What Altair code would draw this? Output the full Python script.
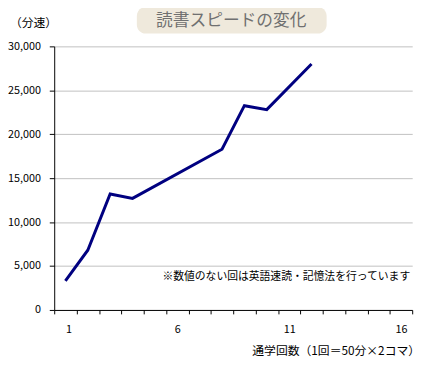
import altair as alt
import pandas as pd

# Data (sessions without values are omitted)
sessions = [1, 2, 3, 4, 8, 9, 10, 12]
speeds = [3300, 6800, 13200, 12700, 18300, 23250, 22800, 28000]

y_ticks = [0, 5000, 10000, 15000, 20000, 25000, 30000]
x_boundaries = [i + 0.5 for i in range(0, 17)]

title_text = "読書スピードの変化"
unit_text = "（分速）"
x_title_text = "通学回数（1回＝50分×2コマ）"
note_text = "※数値のない回は英語速読・記憶法を行っています"

FONT = "Noto Sans CJK JP"
W, H = 364, 268

df = pd.DataFrame({"session": sessions, "speed": speeds})

x_scale = alt.Scale(domain=[0.5, 16.5], nice=False, zero=False)
y_scale = alt.Scale(domain=[0, 30000], nice=False)

line = alt.Chart(df).mark_line(color="#000080", strokeWidth=3).encode(
    x=alt.X("session:Q", scale=x_scale,
            axis=alt.Axis(values=x_boundaries, title=None, grid=False,
                          labelExpr="(datum.value - 0.5) % 5 == 0 ? format(datum.value + 0.5, 'd') : ''",
                          labelOffset=W / 16 / 2, labelOverlap=False,
                          tickSize=4, tickColor="black", domainColor="black",
                          labelPadding=10, labelFont=FONT, labelFontSize=11,
                          labelColor="black")),
    y=alt.Y("speed:Q", scale=y_scale,
            axis=alt.Axis(values=y_ticks, format=",d", title=None, grid=True,
                          gridColor="#c0c0c0", tickSize=5, tickColor="black",
                          domainColor="black", labelPadding=9, labelFont=FONT,
                          labelFontSize=11, labelColor="black")),
)

one = alt.Data(values=[{"a": 1}])

title_box = alt.Chart(one).mark_rect(fill="#efe9dc", cornerRadius=9).encode(
    x=alt.value(84), x2=alt.value(277), y=alt.value(-40), y2=alt.value(-13)
)
title_mark = alt.Chart(pd.DataFrame({"t": [title_text]})).mark_text(
    font=FONT, fontSize=17, color="#707070", align="center", baseline="middle"
).encode(x=alt.value(180), y=alt.value(-26), text="t:N")

unit_mark = alt.Chart(pd.DataFrame({"t": [unit_text]})).mark_text(
    font=FONT, fontSize=12, color="black", align="left", baseline="middle"
).encode(x=alt.value(-45), y=alt.value(-24), text="t:N")

xtitle_mark = alt.Chart(pd.DataFrame({"t": [x_title_text]})).mark_text(
    font=FONT, fontSize=12, color="black", align="right", baseline="middle"
).encode(x=alt.value(372), y=alt.value(310), text="t:N")

note_mark = alt.Chart(pd.DataFrame({"t": [note_text]})).mark_text(
    font=FONT, fontSize=11, color="black", align="left", baseline="middle"
).encode(x=alt.value(110), y=alt.value(235), text="t:N")

chart = alt.layer(line, title_box, title_mark, unit_mark, xtitle_mark, note_mark).properties(
    width=W, height=H,
    autosize=alt.AutoSizeParams(type="none"),
    padding={"left": 47, "top": 36, "right": 12, "bottom": 56},
).configure_view(stroke=None)

chart.save("out.html", embed_options={"renderer": "svg", "actions": False})
